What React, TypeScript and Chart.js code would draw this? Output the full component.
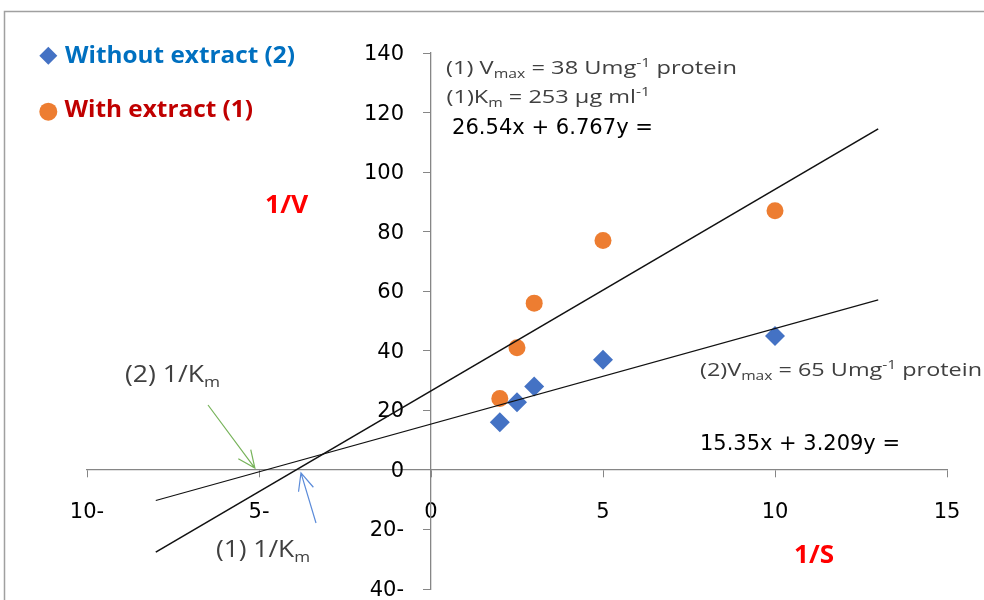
import React, { useEffect, useRef } from 'react';
import { Chart, registerables } from 'chart.js';

Chart.register(...registerables);

// ---- data ----
const withoutExtractX = [2, 2.5, 3, 5, 10];
const withoutExtractY = [16, 22.7, 28, 37, 45];
const withExtractX = [2, 2.5, 3, 5, 10];
const withExtractY = [24, 41, 56, 77, 87];
// trend lines (endpoints; they follow y = 26.54 + 6.767x and y = 15.35 + 3.209x)
const trendX = [-8, 13];
const trendWithY = [-27.6, 114.5];
const trendWithoutY = [-10.3, 57.1];
const xMin = -10, xMax = 15, xStep = 5;
const yMin = -40, yMax = 140, yStep = 20;
const legendLabels = ['Without extract (2)', 'With extract (1)'];
const legendColors = ['#0070C0', '#C00000'];
const xTitle = '1/S';
const yTitle = '1/V';

const BLUE = '#4472C4';
const ORANGE = '#ED7D31';
const AXIS = '#868686';

const tickFmt = (v: number) => (v < 0 ? `${-v}-` : `${v}`);

type Seg = { t: string; sub?: boolean; sup?: boolean };

function drawRich(
  ctx: CanvasRenderingContext2D,
  segs: Seg[],
  x: number,
  y: number,
  size: number,
  family: string,
  color: string,
  targetWidth?: number,
  weight = 'normal'
) {
  ctx.save();
  ctx.fillStyle = color;
  ctx.textBaseline = 'alphabetic';
  ctx.textAlign = 'left';
  const fontFor = (s: Seg) => `${weight} ${s.sub || s.sup ? Math.round(size * 0.66) : size}px ${family}`;
  let total = 0;
  for (const s of segs) {
    ctx.font = fontFor(s);
    total += ctx.measureText(s.t).width;
  }
  const sx = targetWidth ? targetWidth / total : 1;
  ctx.translate(x, y);
  ctx.scale(sx, 1);
  let cx = 0;
  for (const s of segs) {
    ctx.font = fontFor(s);
    const dy = s.sub ? size * 0.22 : s.sup ? -size * 0.4 : 0;
    ctx.fillText(s.t, cx, dy);
    cx += ctx.measureText(s.t).width;
  }
  ctx.restore();
}

function arrow(ctx: CanvasRenderingContext2D, x0: number, y0: number, x1: number, y1: number, color: string) {
  const ang = Math.atan2(y1 - y0, x1 - x0);
  const hl = 19, ha = 0.42;
  ctx.save();
  ctx.strokeStyle = color;
  ctx.lineWidth = 1.2;
  ctx.beginPath();
  ctx.moveTo(x0, y0);
  ctx.lineTo(x1, y1);
  ctx.moveTo(x1 - hl * Math.cos(ang - ha), y1 - hl * Math.sin(ang - ha));
  ctx.lineTo(x1, y1);
  ctx.lineTo(x1 - hl * Math.cos(ang + ha), y1 - hl * Math.sin(ang + ha));
  ctx.stroke();
  ctx.restore();
}

const Y_LABEL_GAP = 27;

const decorPlugin = {
  id: 'decor',
  beforeDraw(chart: any) {
    const ctx = chart.ctx as CanvasRenderingContext2D;
    ctx.save();
    ctx.fillStyle = '#fff';
    ctx.fillRect(0, 0, chart.width, chart.height);
    ctx.strokeStyle = '#A0A0A0';
    ctx.lineWidth = 1.5;
    ctx.strokeRect(4.5, 11.5, chart.width + 20, chart.height + 20);
    ctx.restore();
    // y labels of an axis crossing at x = 0 sit left of the tick marks
    const ys = chart.scales.y;
    const items = ys.getLabelItems(chart.chartArea);
    for (const it of items) {
      if (!it.__shifted) {
        it.options.translation[0] -= Y_LABEL_GAP;
        it.options.translation[1] += 1.5;
        it.__shifted = true;
      }
    }
  },
  afterDraw(chart: any) {
    const ctx = chart.ctx as CanvasRenderingContext2D;
    const xs = chart.scales.x, ys = chart.scales.y;
    const px = (v: number) => xs.getPixelForValue(v);
    const py = (v: number) => ys.getPixelForValue(v);

    // legend markers
    ctx.save();
    ctx.fillStyle = BLUE;
    const dx = 48.3, dy = 55.8, h = 9;
    ctx.beginPath();
    ctx.moveTo(dx, dy - h); ctx.lineTo(dx + h, dy); ctx.lineTo(dx, dy + h); ctx.lineTo(dx - h, dy); ctx.closePath();
    ctx.fill();
    ctx.fillStyle = ORANGE;
    ctx.beginPath(); ctx.arc(48.3, 111.7, 9, 0, Math.PI * 2); ctx.fill();
    ctx.restore();

    const F = '"Open Sans"';
    drawRich(ctx, [{ t: legendLabels[0] }], 65, 63.3, 23, F, legendColors[0], 230, 'bold');
    drawRich(ctx, [{ t: legendLabels[1] }], 64.5, 117, 23, F, legendColors[1], 188.5, 'bold');

    // axis titles
    drawRich(ctx, [{ t: yTitle }], 265, 212.7, 25, F, '#FF0000', 43.3, 'bold');
    drawRich(ctx, [{ t: xTitle }], 794, 562.5, 25, F, '#FF0000', 40, 'bold');

    const TXT = '#404040';
    drawRich(ctx, [{ t: '(1) V' }, { t: 'max', sub: true }, { t: ' = 38 Umg' }, { t: '-1', sup: true }, { t: ' protein' }], 446, 74.3, 18, F, TXT, 291);
    drawRich(ctx, [{ t: '(1)K' }, { t: 'm', sub: true }, { t: ' = 253 \u00B5g ml' }, { t: '-1', sup: true }], 446.5, 103.3, 18, F, TXT, 203.5);
    drawRich(ctx, [{ t: '26.54x + 6.767y =' }], 452, 134.3, 21, '"DejaVu Sans"', '#000', 201);
    drawRich(ctx, [{ t: '(2)V' }, { t: 'max', sub: true }, { t: ' = 65 Umg' }, { t: '-1', sup: true }, { t: ' protein' }], 700, 376, 18, F, TXT, 282);
    drawRich(ctx, [{ t: '15.35x + 3.209y =' }], 700, 450, 21, '"DejaVu Sans"', '#000', 200);
    drawRich(ctx, [{ t: '(2) 1/K' }, { t: 'm', sub: true }], 125, 382.3, 23, F, TXT, 95);
    drawRich(ctx, [{ t: '(1) 1/K' }, { t: 'm', sub: true }], 216, 557, 23, F, TXT, 94);

    arrow(ctx, 208, 405, px(-5.12), py(0.6), '#77B35A');
    arrow(ctx, 316, 523, px(-3.78), py(-1), '#5B8BD9');
  },
};

export default function App() {
  const ref = useRef<HTMLCanvasElement | null>(null);
  useEffect(() => {
    if (!ref.current) return;
    const toPts = (xs: number[], ys: number[]) => xs.map((x, i) => ({ x, y: ys[i] }));
    const tickFont = { family: '"DejaVu Sans"', size: 21 };
    const chart = new Chart(ref.current, {
      type: 'scatter',
      data: {
        datasets: [
          {
            type: 'line',
            label: 'trend with',
            data: toPts(trendX, trendWithY),
            borderColor: '#111',
            borderWidth: 1.6,
            pointRadius: 0,
            showLine: true,
          } as any,
          {
            type: 'line',
            label: 'trend without',
            data: toPts(trendX, trendWithoutY),
            borderColor: '#111',
            borderWidth: 1.1,
            pointRadius: 0,
            showLine: true,
          } as any,
          {
            label: legendLabels[0],
            data: toPts(withoutExtractX, withoutExtractY),
            pointStyle: 'rectRot',
            pointRadius: 10,
            backgroundColor: BLUE,
            borderColor: BLUE,
            borderWidth: 0,
          },
          {
            label: legendLabels[1],
            data: toPts(withExtractX, withExtractY),
            pointStyle: 'circle',
            pointRadius: 8.5,
            backgroundColor: ORANGE,
            borderColor: ORANGE,
            borderWidth: 0,
          },
        ],
      },
      options: {
        animation: false,
        responsive: false,
        layout: { padding: { left: 87, right: 37, top: 53, bottom: 11 } },
        plugins: { legend: { display: false }, tooltip: { enabled: false } },
        scales: {
          x: {
            type: 'linear',
            position: { y: 0 } as any,
            min: xMin,
            max: xMax,
            afterFit: (s: any) => { s.height = 0; s.paddingLeft = 0; s.paddingRight = 0; s.paddingTop = 0; s.paddingBottom = 0; },
            grid: { drawOnChartArea: false, drawTicks: true, tickLength: 7, color: AXIS },
            border: { color: AXIS, width: 1.3 },
            ticks: { stepSize: xStep, callback: (v: any) => tickFmt(Number(v)), color: '#000', font: tickFont, padding: 23, maxRotation: 0, autoSkip: false },
          },
          y: {
            type: 'linear',
            position: { x: 0 } as any,
            min: yMin,
            max: yMax,
            afterFit: (s: any) => { s.width = 0; s.paddingLeft = 0; s.paddingRight = 0; s.paddingTop = 0; s.paddingBottom = 0; },
            grid: { drawOnChartArea: false, drawTicks: true, tickLength: 7, color: AXIS },
            border: { color: AXIS, width: 1.3 },
            ticks: { stepSize: yStep, callback: (v: any) => tickFmt(Number(v)), color: '#000', font: tickFont, autoSkip: false },
          },
        },
      },
      plugins: [decorPlugin],
    });
    return () => chart.destroy();
  }, []);
  return (
    <div style={{ position: 'absolute', left: 0, top: 0, width: 984, height: 600 }}>
      <canvas ref={ref} width={984} height={600} />
    </div>
  );
}
